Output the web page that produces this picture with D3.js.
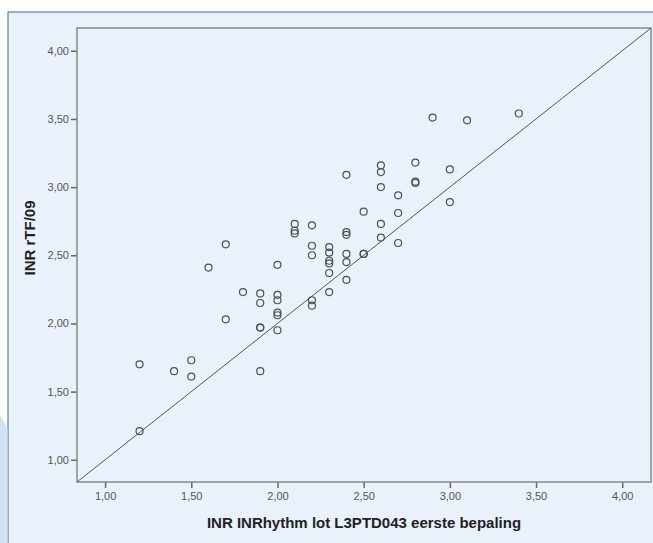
<!DOCTYPE html>
<html>
<head>
<meta charset="utf-8">
<script src="https://cdn.jsdelivr.net/npm/d3@7"></script>
<style>
  body { margin: 0; background: #fff; }
  text { font-family: "Liberation Sans", Arial, sans-serif; }
</style>
</head>
<body>
<svg id="chart" width="653" height="543"></svg>
<script>
// data
var xValues = [1.2,1.2, 1.4, 1.5,1.5, 1.6, 1.7,1.7, 1.8,
  1.9,1.9,1.9,1.9,1.9, 2.0,2.0,2.0,2.0,2.0,2.0, 2.1,2.1,2.1,
  2.2,2.2,2.2,2.2,2.2, 2.3,2.3,2.3,2.3,2.3,2.3, 2.4,2.4,2.4,2.4,2.4,2.4,
  2.5,2.5,2.5, 2.6,2.6,2.6,2.6,2.6, 2.7,2.7,2.7, 2.8,2.8,2.8, 2.9, 3.0,3.0, 3.1, 3.4]
var yValues = [1.70,1.21, 1.65, 1.73,1.61, 2.41, 2.58,2.03, 2.23,
  2.22,2.15,1.97,1.97,1.65, 2.43,2.21,2.17,2.08,2.06,1.95, 2.73,2.68,2.66,
  2.72,2.57,2.50,2.17,2.13, 2.56,2.52,2.46,2.44,2.37,2.23, 3.09,2.67,2.65,2.51,2.45,2.32,
  2.82,2.51,2.51, 3.16,3.11,3.00,2.73,2.63, 2.94,2.81,2.59, 3.18,3.04,3.03, 3.51, 3.13,2.89, 3.49, 3.54]
var tickValues = [1.0, 1.5, 2.0, 2.5, 3.0, 3.5, 4.0]
var xTitle = "INR INRhythm lot L3PTD043 eerste bepaling"
var yTitle = "INR rTF/09"

var svg = d3.select("#chart")

// background frame
svg.append("rect").attr("x", 8).attr("y", 12).attr("width", 660).attr("height", 540)
  .style("fill", "#e9f1fb").style("stroke", "#3a6ba8").style("stroke-width", 1)
svg.append("polygon").attr("points", "0,415 7.5,428 7.5,543 0,543").style("fill", "#d3e2f4")

var pLeft = 77, pRight = 651, pTop = 28, pBottom = 482
var dom = [0.837, 4.167]
var x = d3.scaleLinear().domain(dom).range([pLeft, pRight])
var y = d3.scaleLinear().domain(dom).range([pBottom, pTop])

var fmt = function(d) { return d3.format(".2f")(d).replace(".", ",") }

// axes
svg.append("g").attr("transform", "translate(0," + pBottom + ")")
  .call(d3.axisBottom(x).tickValues(tickValues).tickSize(6).tickPadding(4).tickFormat(fmt))
svg.append("g").attr("transform", "translate(" + pLeft + ",0)")
  .call(d3.axisLeft(y).tickValues(tickValues).tickSize(6).tickPadding(2).tickFormat(fmt))

svg.selectAll(".domain").remove()
svg.selectAll(".tick line").style("stroke", "#666").style("stroke-width", 1.5)
svg.selectAll(".tick text").style("fill", "#555").style("font-size", "11px")
  .style("font-family", "'Liberation Sans', Arial, sans-serif")

// plot border
svg.append("rect").attr("x", pLeft).attr("y", pTop).attr("width", pRight - pLeft).attr("height", pBottom - pTop)
  .style("fill", "none").style("stroke", "#888").style("stroke-width", 1.5)

// reference line y = x
svg.append("line")
  .attr("x1", x(dom[0])).attr("y1", y(dom[0]))
  .attr("x2", x(dom[1])).attr("y2", y(dom[1]))
  .style("stroke", "#555").style("stroke-width", 1)

// points
svg.append("g").selectAll("circle")
  .data(xValues)
  .join("circle")
  .attr("cx", function(d) { return x(d) })
  .attr("cy", function(d, i) { return y(yValues[i]) })
  .attr("r", 3.5)
  .style("fill", "none").style("stroke", "#505050").style("stroke-width", 1.2)

// axis titles
svg.append("text").attr("x", (pLeft + pRight) / 2).attr("y", 528).text(xTitle)
  .style("font-size", "15px").style("font-weight", "bold").style("fill", "#222")
  .attr("text-anchor", "middle")
svg.append("text").attr("transform", "translate(35,238) rotate(-90)").text(yTitle)
  .style("font-size", "15px").style("font-weight", "bold").style("fill", "#222")
  .attr("text-anchor", "middle")
</script>
</body>
</html>
